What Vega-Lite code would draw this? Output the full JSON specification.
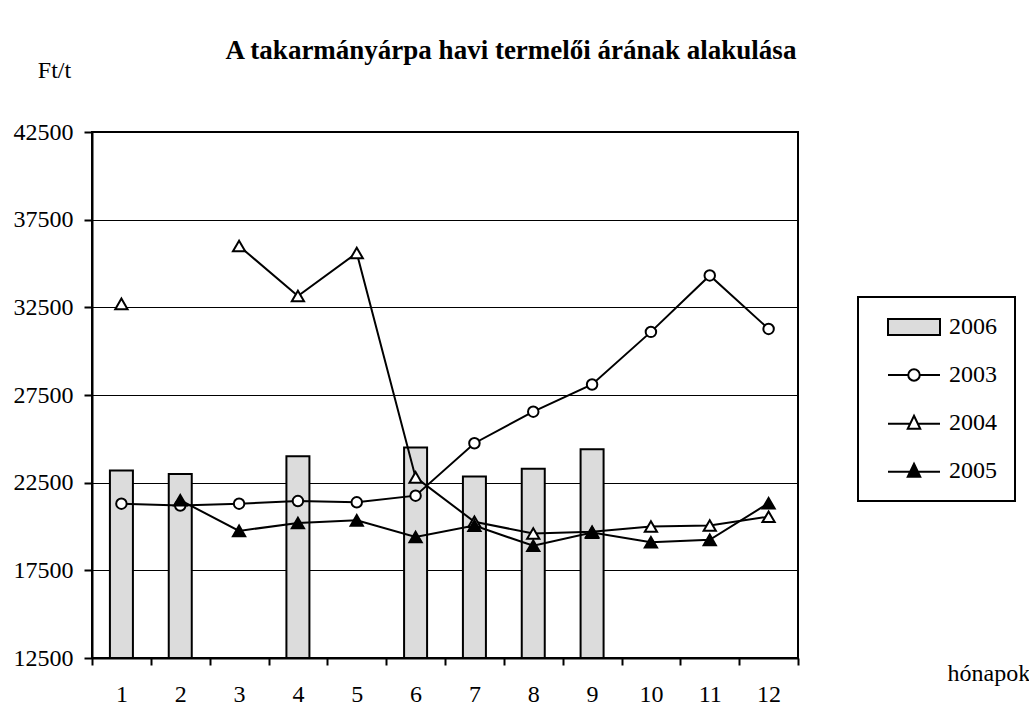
{
  "$schema": "https://vega.github.io/schema/vega-lite/v6.json",
  "width": 706,
  "height": 526,
  "autosize": {"type": "none"},
  "padding": {"left": 92, "top": 132, "right": 231, "bottom": 52},
  "background": "white",
  "config": {
    "font": "Liberation Serif",
    "view": {"stroke": "black", "strokeWidth": 2},
    "axis": {
      "labelFont": "Liberation Serif", "labelFontSize": 24, "labelColor": "black",
      "titleFont": "Liberation Serif", "titleFontSize": 24, "titleFontWeight": "normal", "titleColor": "black",
      "domainColor": "black", "domainWidth": 2, "tickColor": "black", "tickWidth": 2,
      "gridColor": "black", "gridWidth": 1, "gridOpacity": 1
    },
    "legend": {"strokeWidth": 2}
  },
  "title": {
    "text": "A takarmányárpa havi termelői árának alakulása",
    "font": "Liberation Serif", "fontSize": 27, "fontWeight": "bold", "color": "black",
    "anchor": "middle", "frame": "group", "dx": 66, "dy": 7, "offset": 0
  },
  "data": {
    "values": [
      {"month": 1, "year": "2006", "price": 23200},
      {"month": 2, "year": "2006", "price": 23000},
      {"month": 4, "year": "2006", "price": 24000},
      {"month": 6, "year": "2006", "price": 24500},
      {"month": 7, "year": "2006", "price": 22850},
      {"month": 8, "year": "2006", "price": 23300},
      {"month": 9, "year": "2006", "price": 24400},
      {"month": 1, "year": "2003", "price": 21300},
      {"month": 2, "year": "2003", "price": 21200},
      {"month": 3, "year": "2003", "price": 21300},
      {"month": 4, "year": "2003", "price": 21450},
      {"month": 5, "year": "2003", "price": 21380},
      {"month": 6, "year": "2003", "price": 21760},
      {"month": 7, "year": "2003", "price": 24750},
      {"month": 8, "year": "2003", "price": 26550},
      {"month": 9, "year": "2003", "price": 28100},
      {"month": 10, "year": "2003", "price": 31100},
      {"month": 11, "year": "2003", "price": 34320},
      {"month": 12, "year": "2003", "price": 31270},
      {"month": 1, "year": "2004", "price": 32700},
      {"month": 2, "year": "2004", "price": null},
      {"month": 3, "year": "2004", "price": 36000},
      {"month": 4, "year": "2004", "price": 33150},
      {"month": 5, "year": "2004", "price": 35600},
      {"month": 6, "year": "2004", "price": 22800},
      {"month": 7, "year": "2004", "price": 20270},
      {"month": 8, "year": "2004", "price": 19600},
      {"month": 9, "year": "2004", "price": 19700},
      {"month": 10, "year": "2004", "price": 20000},
      {"month": 11, "year": "2004", "price": 20060},
      {"month": 12, "year": "2004", "price": 20560},
      {"month": 2, "year": "2005", "price": 21500},
      {"month": 3, "year": "2005", "price": 19750},
      {"month": 4, "year": "2005", "price": 20200},
      {"month": 5, "year": "2005", "price": 20350},
      {"month": 6, "year": "2005", "price": 19400},
      {"month": 7, "year": "2005", "price": 20050},
      {"month": 8, "year": "2005", "price": 18900},
      {"month": 9, "year": "2005", "price": 19650},
      {"month": 10, "year": "2005", "price": 19100},
      {"month": 11, "year": "2005", "price": 19240},
      {"month": 12, "year": "2005", "price": 21330}
    ]
  },
  "encoding": {
    "x": {
      "field": "month", "type": "ordinal",
      "scale": {"paddingInner": 0, "paddingOuter": 0},
      "axis": {
        "title": "hónapok", "titleX": 855, "titleY": 22, "titleAlign": "left", "titleBaseline": "alphabetic",
        "labelFont": "Liberation Serif", "titleFont": "Liberation Serif",
        "labelAngle": 0, "tickSize": 7, "labelPadding": 17, "tickBand": "extent", "grid": false
      }
    },
    "y": {
      "field": "price", "type": "quantitative",
      "scale": {"domain": [12500, 42500], "nice": false, "zero": false},
      "axis": {
        "values": [12500, 17500, 22500, 27500, 32500, 37500, 42500], "format": "d",
        "labelFont": "Liberation Serif", "titleFont": "Liberation Serif",
        "tickSize": 8, "labelPadding": 11, "grid": true,
        "title": "Ft/t", "titleAngle": 0, "titleX": -38, "titleY": -55, "titleAlign": "center", "titleBaseline": "alphabetic"
      }
    }
  },
  "layer": [
    {
      "transform": [{"filter": "datum.year === '2006'"}],
      "mark": {"type": "bar", "size": 23, "fill": "#dcdcdc", "stroke": "black", "strokeWidth": 2},
      "encoding": {"y2": {"datum": 12500}}
    },
    {
      "transform": [{"filter": "datum.year !== '2006'"}],
      "mark": {"type": "line", "stroke": "black", "strokeWidth": 2},
      "encoding": {"detail": {"field": "year"}}
    },
    {
      "transform": [{"filter": "datum.year === '2003'"}],
      "mark": {"type": "point", "shape": "circle", "filled": true, "fill": "white", "stroke": "black", "strokeWidth": 2, "size": 110, "opacity": 1}
    },
    {
      "transform": [{"filter": "datum.year === '2004'"}],
      "mark": {"type": "point", "shape": "triangle-up", "filled": true, "fill": "white", "stroke": "black", "strokeWidth": 2, "size": 150, "opacity": 1}
    },
    {
      "transform": [{"filter": "datum.year === '2005'"}],
      "mark": {"type": "point", "shape": "triangle-up", "filled": true, "fill": "black", "stroke": "black", "strokeWidth": 2, "size": 150, "opacity": 1}
    },
    {
      "mark": {"type": "point", "filled": true, "stroke": "black", "strokeWidth": 2, "opacity": 0},
      "encoding": {
        "shape": {
          "field": "year", "type": "nominal",
          "scale": {
            "domain": ["2006", "2003", "2004", "2005"],
            "range": [
              "M-3.25,-1H3.25V1H-3.25Z",
              "M-3.25,0L-0.72,0M0.72,0L3.25,0M0.72,0A0.72,0.72 0 1 1 -0.72,0A0.72,0.72 0 1 1 0.72,0Z",
              "M-3.25,0.1L-0.48,0.1M0.48,0.1L3.25,0.1M0,-0.9L0.78,0.72L-0.78,0.72Z",
              "M-3.25,0.1L-0.48,0.1M0.48,0.1L3.25,0.1M0,-0.9L0.78,0.72L-0.78,0.72Z"
            ]
          },
          "legend": {
            "title": null, "orient": "none", "legendX": 766, "legendY": 165,
            "padding": 18, "symbolOffset": 26, "strokeColor": "black",
            "symbolSize": 256, "symbolStrokeColor": "black", "symbolStrokeWidth": 2, "symbolOpacity": 1,
            "labelFont": "Liberation Serif", "labelFontSize": 24, "labelColor": "black", "labelOffset": 23,
            "rowPadding": 24, "fillColor": "white",
            "encode": {"symbols": {"update": {"stroke": {"value": "black"}, "strokeWidth": {"value": 2}, "opacity": {"value": 1}}}}
          }
        },
        "fill": {
          "field": "year", "type": "nominal",
          "scale": {"domain": ["2006", "2003", "2004", "2005"], "range": ["#dcdcdc", "white", "white", "black"]},
          "legend": {
            "title": null, "orient": "none", "legendX": 766, "legendY": 165,
            "padding": 18, "symbolOffset": 26, "strokeColor": "black",
            "symbolSize": 256, "symbolStrokeColor": "black", "symbolStrokeWidth": 2, "symbolOpacity": 1,
            "labelFont": "Liberation Serif", "labelFontSize": 24, "labelColor": "black", "labelOffset": 23,
            "rowPadding": 24, "fillColor": "white",
            "encode": {"symbols": {"update": {"stroke": {"value": "black"}, "strokeWidth": {"value": 2}, "opacity": {"value": 1}}}}
          }
        }
      }
    }
  ]
}
